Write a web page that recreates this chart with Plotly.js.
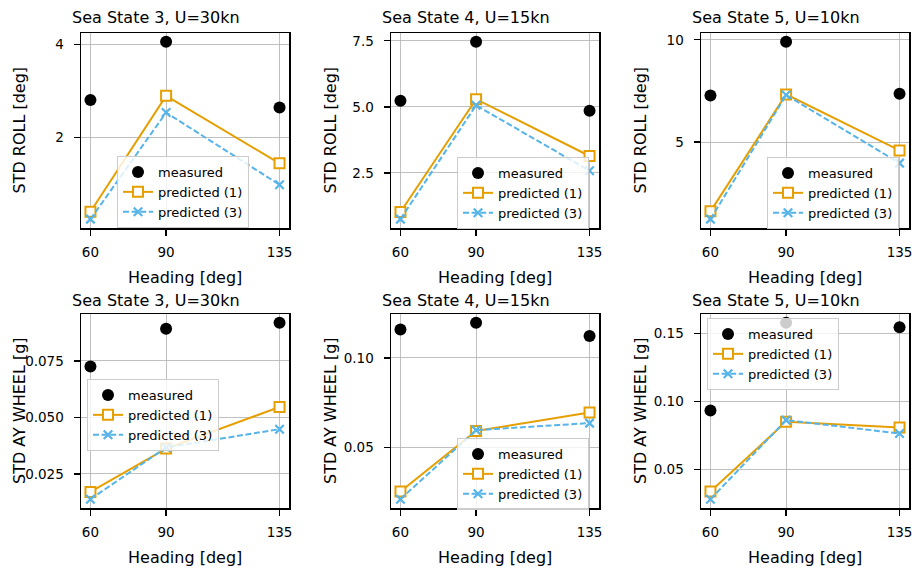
<!DOCTYPE html>
<html>
<head>
<meta charset="utf-8">
<script src="https://cdn.plot.ly/plotly-3.0.1.min.js"></script>
<style>html,body{margin:0;padding:0;background:#fff;}#chart{width:912px;height:570px;}</style>
</head>
<body>
<div id="chart"></div>
<script>
// ---- data ----
const heading = [60, 90, 135];
const headingTicks = ["60", "90", "135"];

const roll_ss3_measured = [2.81, 4.06, 2.65];
const roll_ss3_pred1 = [0.41, 2.90, 1.45];
const roll_ss3_pred3 = [0.25, 2.54, 0.99];
const roll_ss4_measured = [5.23, 7.46, 4.85];
const roll_ss4_pred1 = [1.02, 5.29, 3.14];
const roll_ss4_pred3 = [0.75, 5.06, 2.58];
const roll_ss5_measured = [7.28, 9.90, 7.36];
const roll_ss5_pred1 = [1.61, 7.33, 4.59];
const roll_ss5_pred3 = [1.23, 7.30, 3.97];

const ay_ss3_measured = [0.0726, 0.0893, 0.0919];
const ay_ss3_pred1 = [0.0170, 0.0362, 0.0546];
const ay_ss3_pred3 = [0.0138, 0.0367, 0.0448];
const ay_ss4_measured = [0.1159, 0.1196, 0.1122];
const ay_ss4_pred1 = [0.0256, 0.0593, 0.0696];
const ay_ss4_pred3 = [0.0213, 0.0598, 0.0637];
const ay_ss5_measured = [0.0932, 0.1576, 0.1544];
const ay_ss5_pred1 = [0.0337, 0.0849, 0.0807];
const ay_ss5_pred3 = [0.0280, 0.0861, 0.0763];

const titles = ["Sea State 3, U=30kn", "Sea State 4, U=15kn", "Sea State 5, U=10kn",
                "Sea State 3, U=30kn", "Sea State 4, U=15kn", "Sea State 5, U=10kn"];
const yLabels = ["STD ROLL [deg]", "STD ROLL [deg]", "STD ROLL [deg]",
                 "STD AY WHEEL [g]", "STD AY WHEEL [g]", "STD AY WHEEL [g]"];
const xLabel = "Heading [deg]";
const seriesNames = ["measured", "predicted (1)", "predicted (3)"];

const yTickVals = [[2, 4], [2.5, 5.0, 7.5], [5, 10],
                   [0.025, 0.050, 0.075], [0.05, 0.10], [0.05, 0.10, 0.15]];
const yTickText = [["2", "4"], ["2.5", "5.0", "7.5"], ["5", "10"],
                   ["0.025", "0.050", "0.075"], ["0.05", "0.10"], ["0.05", "0.10", "0.15"]];

const panelData = [
  [roll_ss3_measured, roll_ss3_pred1, roll_ss3_pred3],
  [roll_ss4_measured, roll_ss4_pred1, roll_ss4_pred3],
  [roll_ss5_measured, roll_ss5_pred1, roll_ss5_pred3],
  [ay_ss3_measured, ay_ss3_pred1, ay_ss3_pred3],
  [ay_ss4_measured, ay_ss4_pred1, ay_ss4_pred3],
  [ay_ss5_measured, ay_ss5_pred1, ay_ss5_pred3]
];

// ---- layout geometry (pixels) ----
const W = 912, H = 570;
const colX = [[81, 289], [391, 599], [701, 909]];
const rowY = [[33, 228], [314, 508]];
const titleX = [70, 380, 690];
const titleY = [18, 300];
const yLabX = [19, 330, 640];
const xLabY = [277, 557];
const legendPos = [[117, 156], [457, 157], [767, 157], [87, 379], [457, 438], [707, 318]];

const ORANGE = "#E69F00", BLUE = "#56B4E9";
const FONT = "DejaVu Sans, sans-serif";
const px = v => v / W, py = v => 1 - v / H;

const traces = [];
const layout = {
  width: W, height: H,
  margin: {l: 0, r: 0, t: 0, b: 0},
  paper_bgcolor: "#fff", plot_bgcolor: "#fff",
  font: {family: FONT, color: "#000", size: 13.5},
  showlegend: true,
  annotations: []
};

for (let i = 0; i < 6; i++) {
  const r = Math.floor(i / 3), c = i % 3;
  const sfx = i === 0 ? "" : String(i + 1);
  const xa = "x" + sfx, ya = "y" + sfx;
  const lg = "legend" + sfx;
  const d = panelData[i];
  const all = d[0].concat(d[1], d[2]);
  const lo = Math.min(...all), hi = Math.max(...all), pad = (hi - lo) * 0.05;
  const xpad = (heading[2] - heading[0]) * 0.05;

  layout["xaxis" + sfx] = {
    domain: [px(colX[c][0]), px(colX[c][1])], anchor: ya,
    range: [heading[0] - xpad, heading[2] + xpad],
    tickmode: "array", tickvals: heading, ticktext: headingTicks,
    ticks: "outside", ticklen: 6, tickwidth: 1.3, tickcolor: "#000",
    ticklabelstandoff: 5, ticklabeloverflow: "allow",
    showline: true, mirror: true, linecolor: "#000", linewidth: 1.5,
    showgrid: true, gridcolor: "#b0b0b0", gridwidth: 0.8, zeroline: false,
    tickfont: {family: FONT, size: 13.5, color: "#000"}
  };
  layout["yaxis" + sfx] = {
    domain: [py(rowY[r][1]), py(rowY[r][0])], anchor: xa,
    range: [lo - pad, hi + pad],
    tickmode: "array", tickvals: yTickVals[i], ticktext: yTickText[i],
    ticks: "outside", ticklen: 6, tickwidth: 1.3, tickcolor: "#000",
    ticklabelstandoff: 7, ticklabeloverflow: "allow",
    showline: true, mirror: true, linecolor: "#000", linewidth: 1.5,
    showgrid: true, gridcolor: "#b0b0b0", gridwidth: 0.8, zeroline: false,
    tickfont: {family: FONT, size: 13.5, color: "#000"}
  };
  layout[lg] = {
    x: px(legendPos[i][0]), y: py(legendPos[i][1]),
    xanchor: "left", yanchor: "top", xref: "paper", yref: "paper",
    bgcolor: "rgba(255,255,255,0.8)", bordercolor: "#cccccc", borderwidth: 1,
    font: {family: FONT, size: 13, color: "#000"}
  };

  traces.push({
    type: "scatter", mode: "markers", x: heading, y: d[0], xaxis: xa, yaxis: ya,
    name: seriesNames[0], legend: lg,
    marker: {symbol: "circle", size: 12, color: "#000"}
  });
  traces.push({
    type: "scatter", mode: "lines+markers", x: heading, y: d[1], xaxis: xa, yaxis: ya,
    name: seriesNames[1], legend: lg,
    line: {color: ORANGE, width: 2},
    marker: {symbol: "square", size: 10, color: "#fff", line: {color: ORANGE, width: 2}}
  });
  traces.push({
    type: "scatter", mode: "lines+markers", x: heading, y: d[2], xaxis: xa, yaxis: ya,
    name: seriesNames[2], legend: lg,
    line: {color: BLUE, width: 2, dash: "6px,2.6px"},
    marker: {symbol: "x-thin", size: 8.5, color: BLUE, line: {color: BLUE, width: 2.2}}
  });

  layout.annotations.push({
    text: titles[i], xref: "paper", yref: "paper",
    x: px(titleX[c]), y: py(titleY[r]), xanchor: "left", yanchor: "middle",
    showarrow: false, font: {family: FONT, size: 16, color: "#000"}
  });
  layout.annotations.push({
    text: yLabels[i], xref: "paper", yref: "paper", textangle: -90,
    x: px(yLabX[c]), y: py((rowY[r][0] + rowY[r][1]) / 2), xanchor: "center", yanchor: "middle",
    showarrow: false, font: {family: FONT, size: 16, color: "#000"}
  });
  layout.annotations.push({
    text: xLabel, xref: "paper", yref: "paper",
    x: px((colX[c][0] + colX[c][1]) / 2), y: py(xLabY[r]), xanchor: "center", yanchor: "middle",
    showarrow: false, font: {family: FONT, size: 16, color: "#000"}
  });
}

Plotly.newPlot("chart", traces, layout, {displayModeBar: false, staticPlot: true});
</script>
</body>
</html>
